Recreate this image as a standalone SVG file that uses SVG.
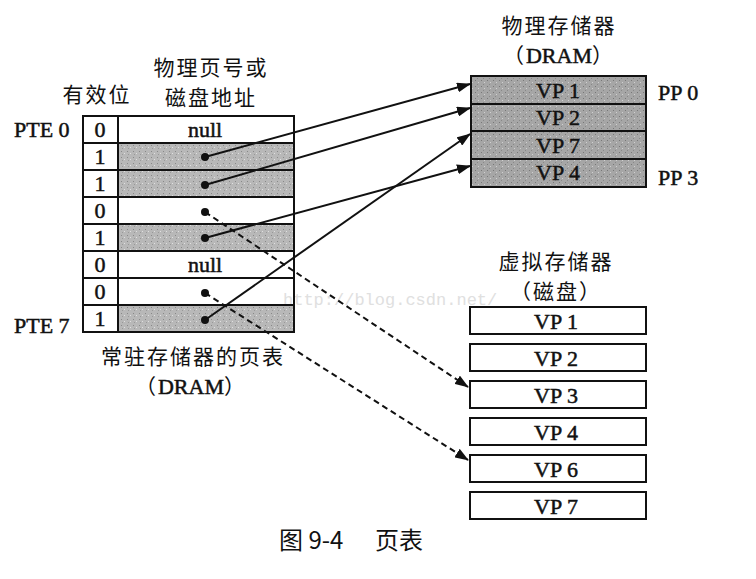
<svg xmlns="http://www.w3.org/2000/svg" width="756" height="579" viewBox="0 0 756 579">
<defs>
<style>
.lat{font-family:"Liberation Serif","Noto Sans CJK SC",serif;font-size:22px;fill:#111;stroke:#111;stroke-width:0.5;letter-spacing:0}
.cjk{font-family:"Noto Sans CJK SC","Liberation Serif",sans-serif;font-size:21px;letter-spacing:2px;fill:#111}
.cap{font-family:"Noto Sans CJK SC","Liberation Sans",sans-serif;font-size:24px;fill:#111}
.box{fill:#fff;stroke:#111;stroke-width:2}
.conn{stroke:#111;stroke-width:2;fill:none}
.dash{stroke:#111;stroke-width:2;fill:none;stroke-dasharray:6 4}
.dot{fill:#111}
</style>
<marker id="ah" markerUnits="userSpaceOnUse" markerWidth="14" markerHeight="10" refX="13" refY="5" orient="auto">
<path d="M0,0 L14,5 L0,10 Z" fill="#111"/>
</marker>
<pattern id="noise" width="6" height="6" patternUnits="userSpaceOnUse">
<rect width="6" height="6" fill="#b8b8b8"/>
<rect x="1" y="1" width="1" height="1" fill="#888"/>
<rect x="4" y="3" width="1" height="1" fill="#e0e0e0"/>
<rect x="2" y="4" width="1" height="1" fill="#999"/>
</pattern>
<pattern id="noise2" width="6" height="6" patternUnits="userSpaceOnUse">
<rect width="6" height="6" fill="#a6a6a6"/>
<rect x="1" y="2" width="1" height="1" fill="#777"/>
<rect x="4" y="4" width="1" height="1" fill="#d0d0d0"/>
<rect x="3" y="0" width="1" height="1" fill="#888"/>
</pattern>
</defs>
<rect width="756" height="579" fill="#fff"/>

<text x="283" y="305" font-family="Liberation Mono,monospace" font-size="17" fill="#e0e0e0">http://blog.csdn.net/</text>

<g id="page-table">
<text class="cjk" x="97" y="102" text-anchor="middle">有效位</text>
<text class="cjk" x="211" y="75" text-anchor="middle">物理页号或</text>
<text class="cjk" x="211" y="105" text-anchor="middle">磁盘地址</text>
<rect x="118" y="143" width="176" height="27" fill="url(#noise)"/>
<rect x="118" y="170" width="176" height="27" fill="url(#noise)"/>
<rect x="118" y="224" width="176" height="27" fill="url(#noise)"/>
<rect x="118" y="305" width="176" height="27" fill="url(#noise)"/>
<rect x="83" y="116" width="211" height="216" fill="none" stroke="#111" stroke-width="2"/>
<path d="M118,116 V332 M83,143 H294 M83,170 H294 M83,197 H294 M83,224 H294 M83,251 H294 M83,278 H294 M83,305 H294" stroke="#111" stroke-width="2" fill="none"/>
<g class="lat" text-anchor="middle">
<text x="100" y="137">0</text>
<text x="100" y="164">1</text>
<text x="100" y="191">1</text>
<text x="100" y="218">0</text>
<text x="100" y="245">1</text>
<text x="100" y="272">0</text>
<text x="100" y="299">0</text>
<text x="100" y="326">1</text>
<text x="205" y="137">null</text>
<text x="205" y="272">null</text>
</g>
<text class="lat" x="14" y="137">PTE 0</text>
<text class="lat" x="14" y="333">PTE 7</text>
<text class="cjk" x="193" y="364" text-anchor="middle">常驻存储器的页表</text>
<text class="cjk" x="191" y="394" text-anchor="middle">（<tspan class="lat">DRAM</tspan>）</text>
</g>

<g id="physical-memory">
<text class="cjk" x="559" y="33" text-anchor="middle">物理存储器</text>
<text class="cjk" x="559" y="63" text-anchor="middle">（<tspan class="lat">DRAM</tspan>）</text>
<rect x="471" y="76" width="175" height="111" fill="url(#noise2)" stroke="#111" stroke-width="2"/>
<path d="M471,104 H646 M471,131 H646 M471,159 H646" stroke="#111" stroke-width="2"/>
<g class="lat" text-anchor="middle">
<text x="558" y="98">VP 1</text>
<text x="558" y="125">VP 2</text>
<text x="558" y="153">VP 7</text>
<text x="558" y="180">VP 4</text>
</g>
<text class="lat" x="658" y="100">PP 0</text>
<text class="lat" x="658" y="185">PP 3</text>
</g>

<g id="virtual-memory">
<text class="cjk" x="556" y="269" text-anchor="middle">虚拟存储器</text>
<text class="cjk" x="556" y="299" text-anchor="middle">（磁盘）</text>
<rect class="box" x="470" y="307" width="176" height="27"/>
<rect class="box" x="470" y="344" width="176" height="27"/>
<rect class="box" x="470" y="381" width="176" height="27"/>
<rect class="box" x="470" y="418" width="176" height="27"/>
<rect class="box" x="470" y="455" width="176" height="27"/>
<rect class="box" x="470" y="492" width="176" height="27"/>
<g class="lat" text-anchor="middle">
<text x="556" y="329">VP 1</text>
<text x="556" y="366">VP 2</text>
<text x="556" y="403">VP 3</text>
<text x="556" y="440">VP 4</text>
<text x="556" y="477">VP 6</text>
<text x="556" y="514">VP 7</text>
</g>
</g>

<g id="connectors">
<path class="conn" d="M205,157 L470,84" marker-end="url(#ah)"/>
<path class="conn" d="M205,185 L470,108" marker-end="url(#ah)"/>
<path class="conn" d="M205,238 L470,166" marker-end="url(#ah)"/>
<path class="conn" d="M205,320 L470,134" marker-end="url(#ah)"/>
<path class="dash" d="M205,212 L468,387" marker-end="url(#ah)"/>
<path class="dash" d="M205,293 L468,460" marker-end="url(#ah)"/>
<g class="dot">
<circle cx="205" cy="157" r="4"/>
<circle cx="205" cy="185" r="4"/>
<circle cx="205" cy="212" r="4"/>
<circle cx="205" cy="238" r="4"/>
<circle cx="205" cy="293" r="4"/>
<circle cx="205" cy="320" r="4"/>
</g>
</g>

<text class="cap" x="279" y="549">图 9-4</text>
<text class="cap" x="375" y="549">页表</text>
</svg>
